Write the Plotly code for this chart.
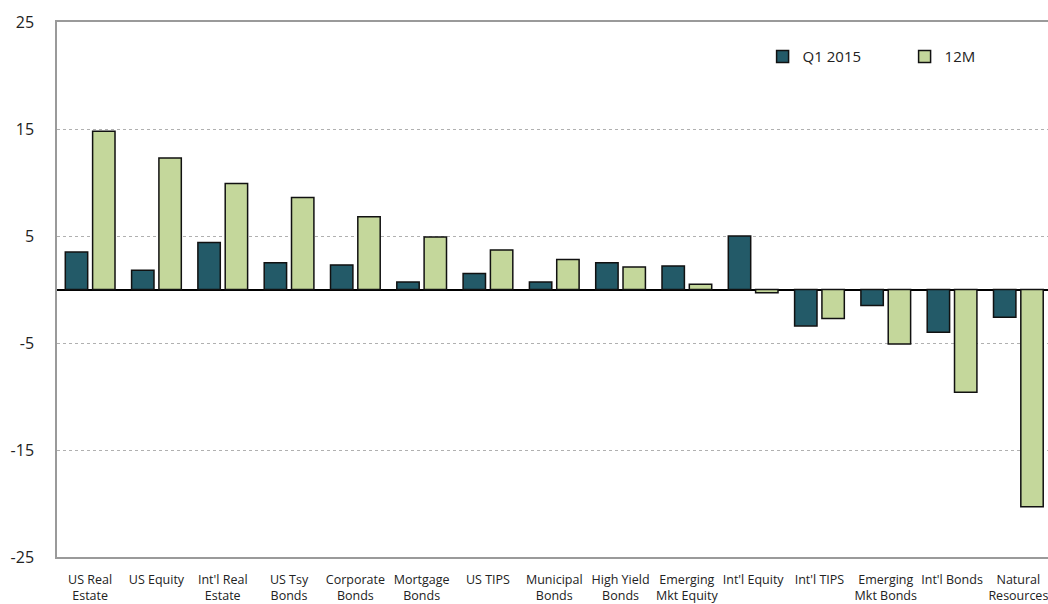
import plotly.graph_objects as go

categories = ["US Real<br>Estate", "US Equity", "Int'l Real<br>Estate", "US Tsy<br>Bonds",
              "Corporate<br>Bonds", "Mortgage<br>Bonds", "US TIPS", "Municipal<br>Bonds",
              "High Yield<br>Bonds", "Emerging<br>Mkt Equity", "Int'l Equity", "Int'l TIPS",
              "Emerging<br>Mkt Bonds", "Int'l Bonds", "Natural<br>Resources"]
q1_2015 = [3.5, 1.8, 4.4, 2.5, 2.3, 0.7, 1.5, 0.7, 2.5, 2.2, 5.0, -3.4, -1.5, -4.0, -2.6]
twelve_m = [14.8, 12.3, 9.9, 8.6, 6.8, 4.9, 3.7, 2.8, 2.1, 0.5, -0.3, -2.7, -5.1, -9.6, -20.3]
y_ticks = [-25, -15, -5, 5, 15, 25]

FONT = "Open Sans"

fig = go.Figure()
fig.add_trace(go.Bar(name="Q1 2015", x=categories, y=q1_2015,
                     marker=dict(color="#235A68", line=dict(color="#111111", width=1.5))))
fig.add_trace(go.Bar(name="12M", x=categories, y=twelve_m,
                     marker=dict(color="#C4D79B", line=dict(color="#111111", width=1.5))))

fig.update_layout(
    width=1048, height=604,
    margin=dict(l=57, r=0, t=22, b=47),
    plot_bgcolor="white", paper_bgcolor="white",
    barmode="group", bargap=0.176, bargroupgap=0.18,
    font=dict(family=FONT, color="#222222"),
    showlegend=True,
    legend=dict(orientation="h", x=0.712, y=0.935, xanchor="left", yanchor="middle",
                font=dict(size=15, family=FONT, color="#222222"),
                entrywidth=97, bgcolor="rgba(0,0,0,0)", itemwidth=30),
)
fig.update_xaxes(
    range=[-0.5, 14.447], showline=True, linecolor="#9a9a9a", linewidth=1.5, mirror=True,
    showgrid=False, ticks="", tickangle=0, ticklabelstandoff=10,
    tickfont=dict(size=12.5, family=FONT, color="#222222"),
)
fig.update_yaxes(
    range=[-25, 25], tickvals=y_ticks, ticktext=[str(v) for v in y_ticks],
    showline=True, linecolor="#9a9a9a", linewidth=1.5, mirror=False,
    showgrid=True, gridcolor="#b0b0b0", griddash="dot", gridwidth=1,
    zeroline=True, zerolinecolor="#000000", zerolinewidth=1.5,
    ticks="", ticklabelstandoff=18, tickfont=dict(size=16, family=FONT, color="#222222"),
)

fig.write_html("out.html")
